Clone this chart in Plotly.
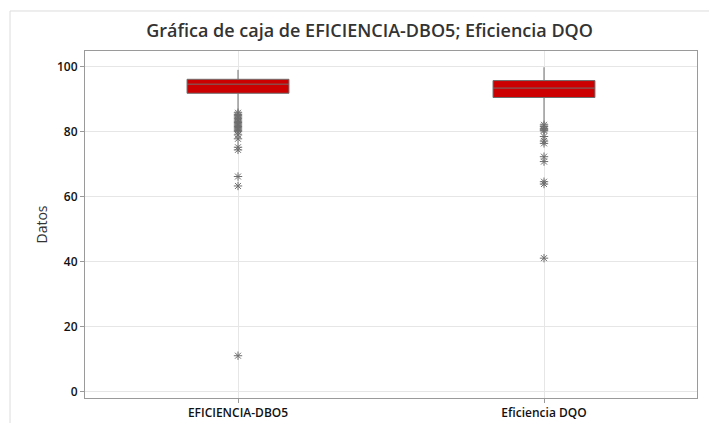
import plotly.graph_objects as go

categories = ["EFICIENCIA-DBO5", "Eficiencia DQO"]
q1 = [91.8, 90.5]
median = [94.6, 93.4]
q3 = [96.1, 95.7]
lowerfence = [86.2, 82.6]
upperfence = [99.0, 99.8]

outliers_dbo5 = [85.8, 85.3, 84.9, 84.5, 84.1, 83.6, 83.2, 82.8, 82.4, 82.0, 81.6, 81.2,
                 80.8, 80.4, 80.0, 79.0, 77.8, 75.2, 74.4, 66.2, 63.3, 11.1]
outliers_dqo = [82.1, 81.6, 81.0, 80.6, 80.3, 78.5, 77.1, 76.4, 72.3, 70.8, 64.6, 63.9, 41.1]

fig = go.Figure()
fig.add_trace(go.Box(
    x=categories, q1=q1, median=median, q3=q3,
    lowerfence=lowerfence, upperfence=upperfence,
    fillcolor="#CC0000", line=dict(color="#6e6e6e", width=1),
    whiskerwidth=0, width=0.333, boxpoints=False, showlegend=False, hoverinfo="y"))

fig.add_trace(go.Scatter(
    x=[categories[0]] * len(outliers_dbo5) + [categories[1]] * len(outliers_dqo),
    y=outliers_dbo5 + outliers_dqo, mode="markers",
    marker=dict(symbol="asterisk-open", size=7, color="#6e6e6e", line=dict(width=1, color="#6e6e6e")),
    showlegend=False))

fig.add_shape(type="rect", xref="paper", yref="paper",
              x0=-0.1225, x1=1.2, y0=-0.3, y1=1.1153,
              line=dict(color="#dcdcdc", width=1), fillcolor="rgba(0,0,0,0)", layer="below")

fig.update_layout(
    width=709, height=415,
    margin=dict(l=77, r=20, t=43, b=25, autoexpand=False),
    paper_bgcolor="white", plot_bgcolor="white",
    font=dict(family="Open Sans", color="#222"),
    title=dict(text="Gráfica de caja de EFICIENCIA-DBO5; Eficiencia DQO",
               x=0.51, xref="container", xanchor="center",
               y=0.9446, yref="container", yanchor="middle",
               font=dict(size=18, color="#333333", family="Open Sans", weight=600)),
    xaxis=dict(range=[-0.5, 1.5], showline=True, linecolor="#9a9a9a", mirror=True,
               showgrid=True, gridcolor="#e6e6e6", ticks="outside", ticklen=4,
               tickcolor="#9a9a9a", tickfont=dict(size=12, color="#111", weight=600),
               zeroline=False, automargin=False),
    yaxis=dict(range=[-1.9, 104.8], showline=True, linecolor="#9a9a9a", mirror=True,
               showgrid=True, gridcolor="#e6e6e6", ticks="outside", ticklen=4,
               tickcolor="#9a9a9a", tickvals=[0, 20, 40, 60, 80, 100],
               tickfont=dict(size=12, color="#111", weight=600), zeroline=False,
               automargin=False,
               title=dict(text="Datos", font=dict(size=14, color="#333"), standoff=6)),
)

fig.write_html("out.html")
